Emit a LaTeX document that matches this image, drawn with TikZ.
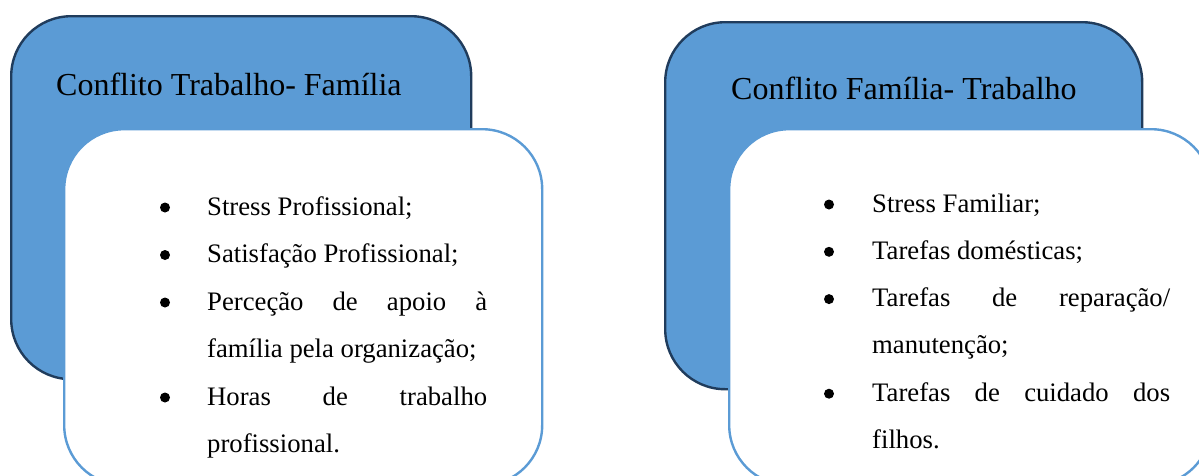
\documentclass[tikz,border=0pt]{standalone}
\usepackage{fontspec}
\setmainfont{Liberation Serif}
\definecolor{boxblue}{HTML}{5B9BD5}
\definecolor{navy}{HTML}{203C5C}
\begin{document}
\begin{tikzpicture}[x=1pt,y=-1pt,
  bluebox/.style={draw=navy,fill=boxblue,line width=2.4pt,rounded corners=60pt,inner sep=0pt,anchor=north west},
  whitebox/.style={draw=boxblue,fill=white,line width=2.4pt,rounded corners=60pt,inner sep=0pt,anchor=north west},
  titletext/.style={anchor=base west,inner sep=0pt,font=\fontsize{32}{38}\selectfont},
  itemtext/.style={anchor=base west,inner sep=0pt,font=\fontsize{26.7}{32}\selectfont},
  dot/.style={circle,fill=black,inner sep=0pt,minimum size=10pt}]
\useasboundingbox (0,0) rectangle (1199,475);
\clip (0,0) rectangle (1199,475);
% left group
\node[bluebox,minimum width=460pt,minimum height=363pt] (bl) at (10,15) {};
\node[titletext] (tl) at (56,95) {Conflito Trabalho- Família};
\node[whitebox,minimum width=478pt,minimum height=356pt] (wl) at (63,128) {};
\foreach \i/\y in {1/215,2/262.5,3/310,4/405}{
  \node[dot] (bdl\i) at (165,\y-7.5) {};
}
\node[itemtext] (l1) at (207,215) {Stress Profissional;};
\node[itemtext] (l2) at (207,262.5) {Satisfação Profissional;};
\node[itemtext] (l3) at (207,310) {\makebox[280pt][s]{Perceção de apoio à}};
\node[itemtext] (l4) at (207,357.5) {família pela organização;};
\node[itemtext] (l5) at (207,405) {\makebox[280pt][s]{Horas de trabalho}};
\node[itemtext] (l6) at (207,452.5) {profissional.};
% right group
\node[bluebox,minimum width=477pt,minimum height=367pt] (br) at (664,21) {};
\node[titletext] (tr) at (731,99) {Conflito Família- Trabalho};
\node[whitebox,minimum width=482pt,minimum height=356pt] (wr) at (728,128) {};
\foreach \i/\y in {1/212,2/259.3,3/306.6,4/401.2}{
  \node[dot] (bdr\i) at (829,\y-7.5) {};
}
\node[itemtext] (r1) at (872,212) {Stress Familiar;};
\node[itemtext] (r2) at (872,259.3) {Tarefas domésticas;};
\node[itemtext] (r3) at (872,306.6) {\makebox[298pt][s]{Tarefas de reparação/}};
\node[itemtext] (r4) at (872,353.9) {manutenção;};
\node[itemtext] (r5) at (872,401.2) {\makebox[298pt][s]{Tarefas de cuidado dos}};
\node[itemtext] (r6) at (872,448.5) {filhos.};
\end{tikzpicture}
\end{document}
